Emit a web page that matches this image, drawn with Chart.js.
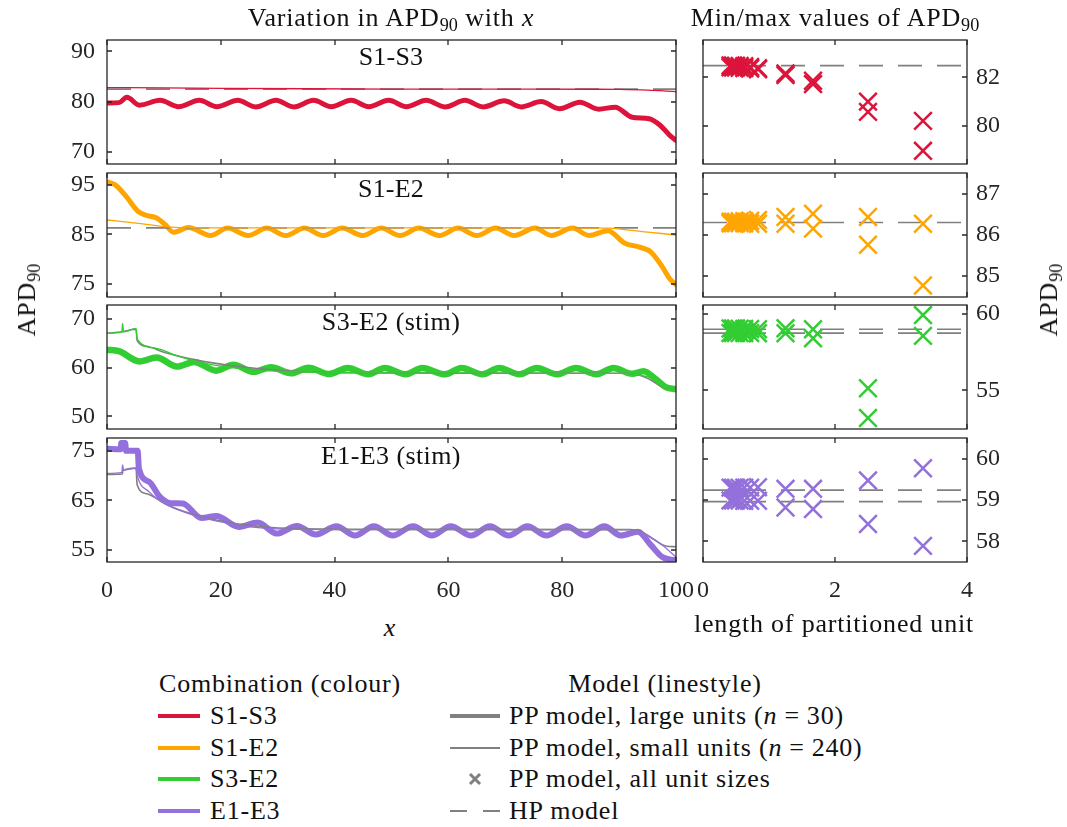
<!DOCTYPE html>
<html><head><meta charset="utf-8">
<script src="https://cdn.jsdelivr.net/npm/chart.js@4.4.1/dist/chart.umd.min.js"></script>
<style>
body{margin:0;background:#fff;width:1067px;height:827px;position:relative;overflow:hidden;font-family:"Liberation Serif","DejaVu Serif","Noto Serif",serif;color:#111}
canvas{position:absolute}
.t{position:absolute;white-space:nowrap;font-size:26px;line-height:1;letter-spacing:0.8px}
.c{transform:translate(-50%,-50%)}
.l{transform:translate(0,-50%)}
.r{transform:translate(-50%,-50%) rotate(-90deg)}
sub{font-size:0.7em;vertical-align:-0.25em;line-height:0;letter-spacing:0}
.sw{position:absolute}
.eq{margin:0 7px}
</style></head><body>
<canvas id="L0" width="690" height="152"></canvas>
<canvas id="L1" width="690" height="152"></canvas>
<canvas id="L2" width="690" height="152"></canvas>
<canvas id="L3" width="690" height="178"></canvas>
<canvas id="R0" width="370" height="152"></canvas>
<canvas id="R1" width="370" height="152"></canvas>
<canvas id="R2" width="370" height="152"></canvas>
<canvas id="R3" width="370" height="178"></canvas>

<div class="t c" style="left:391px;top:18px">Variation in APD<sub>90</sub> with <i>x</i></div>
<div class="t c" style="left:835px;top:18px">Min/max values of APD<sub>90</sub></div>
<div class="t r" style="left:27px;top:300px">APD<sub>90</sub></div>
<div class="t r" style="left:1049px;top:300px">APD<sub>90</sub></div>
<div class="t c" style="left:390px;top:628px"><i>x</i></div>
<div class="t c" style="left:834px;top:624px">length of partitioned unit</div>
<div class="t c" style="left:391px;top:57px;letter-spacing:0.2px">S1-S3</div>
<div class="t c" style="left:391px;top:189px;letter-spacing:0.2px">S1-E2</div>
<div class="t c" style="left:391px;top:322px;letter-spacing:0.4px">S3-E2 (stim)</div>
<div class="t c" style="left:391px;top:456px;letter-spacing:0.4px">E1-E3 (stim)</div>

<div class="t c" style="left:280px;top:684px">Combination (colour)</div>
<div class="sw" style="left:158px;top:714px;width:42px;height:4px;background:#DC143C"></div>
<div class="sw" style="left:158px;top:746px;width:42px;height:4px;background:#FFA500"></div>
<div class="sw" style="left:158px;top:777px;width:42px;height:4px;background:#32CD32"></div>
<div class="sw" style="left:158px;top:809px;width:42px;height:4px;background:#9370DB"></div>
<div class="t l" style="left:210px;top:716px">S1-S3</div>
<div class="t l" style="left:210px;top:748px">S1-E2</div>
<div class="t l" style="left:210px;top:779px">S3-E2</div>
<div class="t l" style="left:210px;top:811px">E1-E3</div>

<div class="t c" style="left:665px;top:684px">Model (linestyle)</div>
<div class="sw" style="left:450px;top:714px;width:50px;height:4px;background:#808080"></div>
<div class="sw" style="left:450px;top:747px;width:50px;height:1.5px;background:#808080"></div>
<svg class="sw" style="left:468px;top:772px" width="14" height="14"><path d="M2 2L12 12M12 2L2 12" stroke="#808080" stroke-width="3"/></svg>
<div class="sw" style="left:450px;top:810px;width:17px;height:2px;background:#808080"></div>
<div class="sw" style="left:483px;top:810px;width:17px;height:2px;background:#808080"></div>
<div class="t l" style="left:509px;top:716px">PP model, large units (<i>n</i><span class="eq">=</span>30)</div>
<div class="t l" style="left:509px;top:748px">PP model, small units (<i>n</i><span class="eq">=</span>240)</div>
<div class="t l" style="left:509px;top:779px">PP model, all unit sizes</div>
<div class="t l" style="left:509px;top:811px">HP model</div>

<script>
// ---------------- data ----------------
const comboColors = ['#DC143C', '#FFA500', '#32CD32', '#9370DB'];
const hpColor = '#808080';

const xLeftTicks = [0, 20, 40, 60, 80, 100];
const xRightTicks = [0, 2, 4];
const yLeftTicks = [[70, 80, 90], [75, 85, 95], [50, 60, 70], [55, 65, 75]];
const yRightTicks = [[80, 82], [85, 86, 87], [55, 60], [58, 59, 60]];
const yLeftRange = [[67.6, 92.25], [72.3, 97.4], [47.4, 72.9], [52.5, 77.6]];
const yRightRange = [[78.44, 83.53], [84.49, 87.5], [52.48, 60.59], [57.5, 60.5]];

// S1-S3
const p1ThickX = [0, 2.1, 3.5, 5.7, 9.3, 12.6, 16.2, 19.3, 23.0, 26.1, 29.7, 32.8, 36.3, 39.4, 42.9, 46.0, 49.5, 52.6, 56.1, 59.4, 62.9, 66.1, 69.8, 72.8, 76.3, 79.5, 83.1, 86.4, 89.3, 92.3, 95.3, 97.2, 98.9, 100];
const p1ThickY = [79.75, 79.8, 80.85, 79.3, 80.25, 79.0, 80.25, 79.0, 80.25, 78.95, 80.25, 78.95, 80.25, 79.0, 80.25, 79.0, 80.25, 79.0, 80.25, 78.95, 80.25, 78.95, 80.15, 78.95, 80.0, 78.6, 79.9, 78.5, 78.9, 76.9, 76.6, 75.3, 73.3, 72.3];
const p1ThinX = [0, 10, 20, 35, 50, 70, 85, 90, 95, 100];
const p1ThinY = [82.8, 82.72, 82.65, 82.56, 82.5, 82.48, 82.46, 82.42, 82.28, 82.0];
const p1HpX = [0, 100];
const p1HpY = [82.48, 82.48];

// S1-E2
const p2ThickX = [0, 1.45, 3.4, 5.4, 6.7, 8.7, 10.3, 11.65, 14.3, 18.2, 21.2, 24.8, 28.1, 31.4, 34.7, 38.0, 41.3, 44.9, 48.2, 51.5, 54.8, 58.4, 61.7, 65.0, 68.3, 71.6, 75.2, 78.1, 81.8, 84.7, 88.0, 91.0, 93.6, 95.6, 97.6, 98.9, 100];
const p2ThickY = [95.6, 95.0, 92.6, 89.7, 88.9, 88.3, 86.9, 85.4, 86.35, 84.75, 86.25, 84.75, 86.25, 84.75, 86.25, 84.75, 86.25, 84.75, 86.25, 84.75, 86.25, 84.75, 86.25, 84.75, 86.25, 84.75, 86.25, 84.75, 86.25, 84.75, 85.7, 83.2, 82.4, 81.4, 78.4, 76.0, 74.8];
const p2ThinX = [0, 2, 4, 6, 8, 10, 12, 15, 20, 50, 88, 91, 94, 97, 100];
const p2ThinY = [87.9, 87.65, 87.4, 87.15, 86.85, 86.55, 86.38, 86.32, 86.3, 86.28, 86.25, 85.95, 85.55, 85.2, 84.85];
const p2HpX = [0, 100];
const p2HpY = [86.3, 86.3];

// S3-E2 (stim)
const p3ThickX = [0, 2.1, 5.7, 8.7, 12.3, 15.3, 19.2, 22.2, 25.8, 28.8, 32.4, 35.4, 39.0, 42.3, 45.9, 48.8, 52.5, 55.4, 59.4, 62.3, 66.0, 68.9, 72.5, 75.5, 79.1, 82.4, 86.0, 89.0, 92.3, 94.3, 96.5, 98.2, 100];
const p3ThickY = [63.7, 63.4, 61.3, 62.1, 60.25, 61.2, 59.4, 60.6, 59.15, 60.1, 58.85, 60.0, 58.7, 59.95, 58.65, 59.95, 58.65, 59.95, 58.65, 59.95, 58.65, 59.95, 58.65, 59.95, 58.65, 59.95, 58.65, 59.95, 58.75, 59.3, 57.6, 56.0, 55.6];
const p3ThinX = [0, 2.6, 2.75, 2.9, 5.1, 5.3, 8.7, 12, 15.3, 18.6, 25, 31.7, 50, 90, 93, 95.6, 97.6, 100];
const p3ThinY = [67.1, 67.3, 69.1, 67.4, 68.1, 65.9, 64.0, 62.6, 61.4, 60.6, 59.6, 59.2, 58.95, 58.85, 58.6, 57.85, 56.1, 55.6];
const p3HpX = [0, 2.7, 5.1, 5.3, 7, 10, 14, 18, 22, 26, 32, 40, 60, 91, 93.5, 95.5, 97.5, 100];
const p3HpY = [67.1, 67.4, 67.9, 65.6, 64.4, 63.2, 62.0, 61.1, 60.4, 59.9, 59.3, 59.0, 58.9, 58.85, 58.5, 57.5, 56.1, 55.6];

// E1-E3 (stim)
const p4ThickX = [0, 2.4, 2.5, 3.2, 3.35, 5.4, 5.6, 7.4, 9.3, 11.3, 13.3, 16.6, 19.2, 23.2, 26.5, 29.8, 33.4, 36.7, 40.3, 43.6, 46.9, 50.2, 53.8, 57.1, 60.4, 64.0, 67.3, 70.6, 73.9, 77.2, 80.8, 84.1, 87.4, 90.3, 93.3, 95.6, 97.6, 100];
const p4ThickY = [75.4, 75.3, 76.6, 76.6, 75.0, 75.0, 71.5, 68.75, 65.7, 64.4, 64.35, 61.4, 61.8, 59.6, 60.5, 58.25, 59.8, 58.05, 59.75, 57.85, 59.75, 57.85, 59.75, 57.85, 59.75, 57.85, 59.75, 57.85, 59.75, 57.85, 59.75, 57.85, 59.75, 57.85, 58.6, 55.9, 53.5, 52.8];
const p4ThinX = [0, 2.6, 2.75, 2.9, 5.1, 5.3, 7.4, 10.7, 15.3, 20.5, 25.1, 31.7, 45, 92, 94.9, 97.6, 100];
const p4ThinY = [70.45, 70.65, 72.15, 71.1, 71.5, 70.1, 66.7, 64.0, 61.95, 60.5, 59.6, 59.15, 59.05, 59.05, 57.9, 55.9, 53.5];
const p4HpX = [0, 2.7, 2.8, 5.1, 5.3, 7, 10.5, 15, 20, 25, 32, 45, 92, 94, 96.2, 98.2, 100];
const p4HpY = [70.2, 70.3, 71.0, 71.5, 68.1, 66.3, 64.1, 62.2, 60.8, 59.9, 59.3, 59.1, 59.05, 58.6, 57.0, 55.75, 55.6];

// min / max vs unit length (n = 30, 40, 60, 80, 120, 140, 160, 180, 200, 220, 240)
const unitLengths = [3.333, 2.5, 1.667, 1.25, 0.833, 0.714, 0.625, 0.556, 0.5, 0.455, 0.417];
const r1Max = [80.21, 81.0, 81.86, 82.16, 82.37, 82.42, 82.45, 82.46, 82.47, 82.48, 82.48];
const r1Min = [78.98, 80.58, 81.72, 82.09, 82.33, 82.36, 82.38, 82.39, 82.40, 82.40, 82.41];
const r2Max = [86.27, 86.43, 86.51, 86.43, 86.36, 86.34, 86.33, 86.33, 86.32, 86.32, 86.32];
const r2Min = [84.77, 85.76, 86.15, 86.27, 86.27, 86.27, 86.28, 86.28, 86.28, 86.28, 86.28];
const r3Max = [59.93, 55.15, 59.0, 59.07, 59.0, 59.02, 59.03, 59.04, 59.05, 59.05, 59.05];
const r3Min = [58.57, 53.2, 58.41, 58.74, 58.74, 58.75, 58.75, 58.76, 58.76, 58.76, 58.76];
const r4Max = [59.77, 59.47, 59.27, 59.27, 59.31, 59.3, 59.3, 59.3, 59.3, 59.3, 59.3];
const r4Min = [57.89, 58.42, 58.78, 58.82, 58.98, 58.98, 58.98, 58.99, 58.99, 58.99, 58.99];
const hpLevels = [[82.48], [86.3], [59.0, 58.75], [59.24, 58.96]];

// ---------------- layout ----------------
const rowTops = [40, 173, 305, 438];
const FONT = {family: '"Liberation Serif", "DejaVu Serif", "Noto Serif", serif', size: 24};
const AX = '#262626';

const pts = (xs, ys) => xs.map((x, i) => ({x: x, y: ys[i]}));

const boxPlugin = {
  id: 'box',
  afterDatasetsDraw(chart) {
    const {ctx, chartArea: a, scales} = chart;
    ctx.save();
    ctx.strokeStyle = AX; ctx.lineWidth = 1.3;
    ctx.strokeRect(a.left, a.top, a.right - a.left, a.bottom - a.top);
    const L = 5;
    ctx.beginPath();
    scales.x.ticks.forEach(t => {
      const p = Math.round(scales.x.getPixelForValue(t.value));
      ctx.moveTo(p, a.bottom); ctx.lineTo(p, a.bottom - L);
      ctx.moveTo(p, a.top); ctx.lineTo(p, a.top + L);
    });
    scales.y.ticks.forEach(t => {
      const p = Math.round(scales.y.getPixelForValue(t.value));
      ctx.moveTo(a.left, p); ctx.lineTo(a.left + L, p);
      ctx.moveTo(a.right, p); ctx.lineTo(a.right - L, p);
    });
    ctx.stroke();
    ctx.restore();
  }
};

const zeroPad = s => { s.paddingTop = 0; s.paddingBottom = 0; s.paddingLeft = 0; s.paddingRight = 0; };

function makeChart(id, left, top, o) {
  const cv = document.getElementById(id);
  cv.style.left = left + 'px';
  cv.style.top = top + 'px';
  new Chart(cv, {
    type: 'scatter',
    data: {datasets: o.datasets},
    options: {
      responsive: false, animation: false, devicePixelRatio: 1,
      layout: {padding: o.padding, autoPadding: false},
      plugins: {legend: {display: false}, tooltip: {enabled: false}},
      elements: {point: {radius: 0}},
      scales: {
        x: {type: 'linear', min: o.xr[0], max: o.xr[1], position: 'bottom',
            grid: {display: false, drawTicks: false}, border: {display: false},
            ticks: {display: o.showX, font: FONT, color: AX, padding: 14, maxRotation: 0, autoSkip: false},
            afterBuildTicks: s => { s.ticks = o.xt.map(v => ({value: v})); },
            afterFit: s => { s.height = o.showX ? 40 : 0; zeroPad(s); }},
        y: {type: 'linear', min: o.yr[0], max: o.yr[1], position: o.ySide,
            grid: {display: false, drawTicks: false}, border: {display: false},
            ticks: {font: FONT, color: AX, padding: o.ySide === 'left' ? 12 : 9},
            afterBuildTicks: s => { s.ticks = o.yt.map(v => ({value: v})); },
            afterFit: s => { s.width = o.yW; zeroPad(s); }}
      }
    },
    plugins: [boxPlugin]
  });
}

const leftSets = [
  [p1ThickX, p1ThickY, p1ThinX, p1ThinY, p1HpX, p1HpY, true],
  [p2ThickX, p2ThickY, p2ThinX, p2ThinY, p2HpX, p2HpY, true],
  [p3ThickX, p3ThickY, p3ThinX, p3ThinY, p3HpX, p3HpY, false],
  [p4ThickX, p4ThickY, p4ThinX, p4ThinY, p4HpX, p4HpY, false]
];
const thickW = [5, 5, 6.5, 6];
const rightMax = [r1Max, r2Max, r3Max, r4Max];
const rightMin = [r1Min, r2Min, r3Min, r4Min];

for (let i = 0; i < 4; i++) {
  const last = i === 3;
  const col = comboColors[i];
  const s = leftSets[i];
  const lineDs = (xs, ys, color, w, order, dash) => ({
    data: pts(xs, ys), showLine: true, borderColor: color, borderWidth: w,
    pointRadius: 0, cubicInterpolationMode: 'monotone', fill: false, order: order,
    borderDash: dash || [], borderCapStyle: 'round', borderJoinStyle: 'round'
  });
  makeChart('L' + i, 20, rowTops[i] - 14, {
    padding: {left: 0, right: 34, top: 14, bottom: last ? 0 : 14},
    xr: [0, 100], xt: xLeftTicks, showX: last,
    yr: yLeftRange[i], yt: yLeftTicks[i], ySide: 'left', yW: 87,
    datasets: [
      lineDs(s[2], s[3], col, 1.3, 0),
      Object.assign(lineDs(s[4], s[5], hpColor, 1.6, 1, s[6] ? [24, 15] : []), {borderCapStyle: 'butt'}),
      lineDs(s[0], s[1], col, thickW[i], 2)
    ]
  });
  const hpDs = hpLevels[i].map(v => ({
    data: pts([0, 4], [v, v]), showLine: true, borderColor: hpColor, borderWidth: 1.6,
    borderDash: [24, 15], pointRadius: 0, order: 2
  }));
  const mk = ys => ({
    data: pts(unitLengths, ys), showLine: false, pointStyle: 'crossRot', pointRadius: 12.5,
    pointBorderWidth: 2.5, pointBorderColor: col, pointBackgroundColor: col, order: 0, clip: 14
  });
  makeChart('R' + i, 692, rowTops[i] - 14, {
    padding: {left: 11, right: 0, top: 14, bottom: last ? 0 : 14},
    xr: [0, 4], xt: xRightTicks, showX: last,
    yr: yRightRange[i], yt: yRightTicks[i], ySide: 'right', yW: 95,
    datasets: hpDs.concat([mk(rightMax[i]), mk(rightMin[i])])
  });
}
</script>
</body></html>
